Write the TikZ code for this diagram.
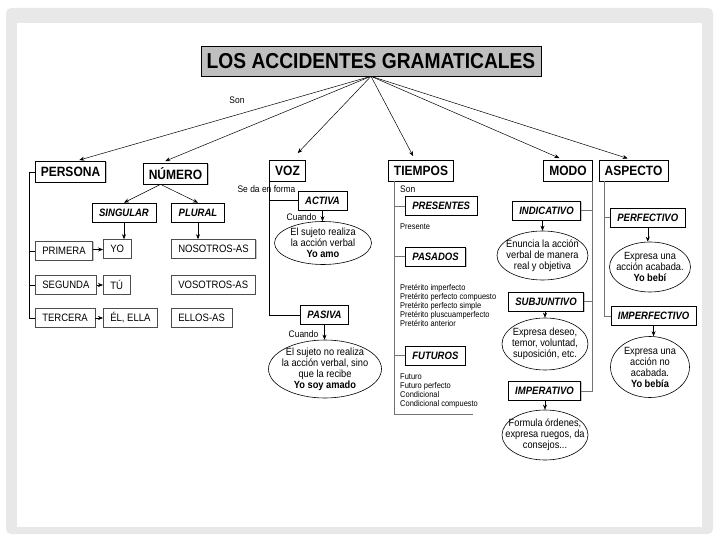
\documentclass[tikz,border=0pt]{standalone}
\usepackage{fontspec}
\setmainfont[FakeStretch=0.89]{Liberation Sans}
\usetikzlibrary{arrows.meta,shapes.geometric,shadows}

\begin{document}
\begin{tikzpicture}[x=1pt, y=-1pt,
  arr/.style={-{Stealth[length=5pt,width=4pt]}, line width=0.5pt},
  boxshadow/.style={drop shadow={shadow xshift=0.9pt, shadow yshift=-0.9pt, opacity=0.45}},
  titlebox/.style={draw, fill=black!25, line width=0.6pt, minimum width=340pt,
    minimum height=30pt, font=\bfseries\fontsize{21.6}{23}\selectfont},
  headbox/.style={draw, fill=white, line width=0.7pt, boxshadow, inner xsep=5.5pt,
    minimum height=21pt, font=\bfseries\fontsize{13.5}{15}\selectfont},
  subbox/.style={draw, fill=white, line width=0.7pt, boxshadow, inner xsep=7pt,
    minimum height=19pt, font=\bfseries\itshape\fontsize{10.7}{12}\selectfont},
  leafbox/.style={draw=black!70, fill=white, line width=0.6pt, boxshadow, inner xsep=7pt,
    minimum height=19pt, font=\fontsize{10.7}{12}\selectfont},
  bubble/.style={draw, ellipse, fill=white, line width=0.6pt, inner sep=0pt},
  bubbletext/.style={inner sep=0pt, align=center, font=\fontsize{10.4}{11}\selectfont},
  note/.style={inner sep=0pt, font=\fontsize{9.5}{11}\selectfont},
  small/.style={inner sep=0pt, text height=6pt, text depth=1.6pt,
    font=\fontsize{8.4}{9}\selectfont},
  link/.style={line width=0.6pt},
  graylink/.style={draw=black!55, line width=0.6pt}]

% --- Frame ---
\fill[white] (0,0) rectangle (720,540);
\fill[black!9, rounded corners=5pt] (6,8) rectangle (713,534);
\fill[white] (17,23) rectangle (702,527);
\useasboundingbox (0,0) rectangle (720,540);

% --- Title and main categories ---
\node[titlebox] (title) at (371,61) {LOS ACCIDENTES GRAMATICALES};
\node[headbox] (persona) at (70.5,172) {PERSONA};
\node[headbox] (numero) at (175.5,173.5) {NÚMERO};
\node[headbox] (voz) at (287.5,170.5) {VOZ};
\node[headbox] (tiempos) at (421,170.5) {TIEMPOS};
\node[headbox] (modo) at (568,170.5) {MODO};
\node[headbox] (aspecto) at (633.5,170.5) {ASPECTO};
\node[note] (son) at (237,100) {Son};

\foreach \n/\dx/\s in {persona/5pt/4pt, numero/-14pt/4pt, voz/4pt/9pt,
    tiempos/-6pt/4pt, modo/-5pt/4pt, aspecto/-2pt/4pt} {
  \draw[arr, shorten >=\s] (title.south) -- ([xshift=\dx]\n.north);
}

% --- Número ---
\node[subbox] (singular) at (124,212.5) {SINGULAR};
\node[subbox] (plural) at (198,212.5) {PLURAL};
\draw[arr] ([xshift=-15pt]numero.south) -- (singular.north);
\draw[arr] ([xshift=-15pt]numero.south) -- (plural.north);

% --- Persona rows ---
\node[leafbox, anchor=west] (primera) at (35,251) {PRIMERA};
\node[leafbox, anchor=west] (segunda) at (35,285) {SEGUNDA};
\node[leafbox, anchor=west] (tercera) at (35,318) {TERCERA};
\node[leafbox, anchor=west] (yo) at (103,249) {YO};
\node[leafbox, anchor=west] (tu) at (103,285) {TÚ};
\node[leafbox, anchor=west] (el) at (103,318) {ÉL, ELLA};
\node[leafbox, anchor=west] (nosotros) at (171,249) {NOSOTROS-AS};
\node[leafbox, anchor=west] (vosotros) at (171,285) {VOSOTROS-AS};
\node[leafbox, anchor=west] (ellos) at (171,318) {ELLOS-AS};

\draw[arr] (singular.south) -- (singular.south |- yo.north);
\draw[arr] (plural.south) -- (plural.south |- nosotros.north);
\draw[arr] ([yshift=1.5pt]primera.east) -- ([yshift=1.5pt]primera.east -| yo.west);
\draw[arr] (segunda.east) -- (tu.west);
\draw[arr] (tercera.east) -- (el.west);

\draw[link] (persona.west) -- ++(-6,0) |- (tercera.west);
\foreach \n in {primera, segunda} {
  \draw[link] (\n.west) -- ++(-6,0);
}

% --- Voz ---
\node[subbox] (activa) at (322.5,200.5) {ACTIVA};
\node[subbox] (pasiva) at (324.5,315) {PASIVA};
\draw[link] (voz.south west) |- (pasiva.west);
\draw[link] (voz.south west |- activa.west) -- (activa.west);
\node[note] (forma) at (266.5,189) {Se da en forma};

\node[note] (cuando1) at (301.5,217) {Cuando};
\node[bubble, minimum width=97pt, minimum height=43pt] (realiza) at (323,243) {};
\node[bubbletext] (realiza-t) at (realiza)
  {El sujeto realiza\\la acción verbal\\\textbf{Yo amo}};
\draw[arr] (activa.south) -- (activa.south |- realiza.north);

\node[note] (cuando2) at (303.5,334) {Cuando};
\node[bubble, minimum width=113pt, minimum height=58pt] (recibe) at (325,369) {};
\node[bubbletext] (recibe-t) at (recibe)
  {El sujeto no realiza\\la acción verbal, sino\\que la recibe\\\textbf{Yo soy amado}};
\draw[arr] (pasiva.south) -- (pasiva.south |- recibe.north);

% --- Tiempos ---
\coordinate (tend) at (473,414);
\draw[graylink] ([xshift=6pt]tiempos.south west) |- (tend);
\node[note, anchor=west] (son2) at (400,189) {Son};
\node[subbox, anchor=west] (presentes) at (405,206) {PRESENTES};
\node[small, anchor=west] (presente) at (400,227) {Presente};
\node[subbox, anchor=west] (pasados) at (405,256.5) {PASADOS};
\node[subbox, anchor=west] (futuros) at (405,355.5) {FUTUROS};
\foreach \n in {presentes, pasados, futuros} {
  \draw[graylink] (\n.west) -- ++(-11,0);
}
\foreach \t [count=\i] in {Pretérito imperfecto, Pretérito perfecto compuesto,
    Pretérito perfecto simple, Pretérito pluscuamperfecto, Pretérito anterior} {
  \node[small, anchor=west] (pas\i) at (400,279+9*\i) {\t};
}
\foreach \t [count=\i] in {Futuro, Futuro perfecto, Condicional,
    Condicional compuesto} {
  \node[small, anchor=west] (fut\i) at (400,368+9*\i) {\t};
}

% --- Modo ---
\node[subbox] (indicativo) at (546.5,210.5) {INDICATIVO};
\node[subbox] (subjuntivo) at (546,301.5) {SUBJUNTIVO};
\node[subbox] (imperativo) at (544.5,391) {IMPERATIVO};
\draw[graylink] (modo.south east) |- (imperativo.east);
\foreach \n in {indicativo, subjuntivo} {
  \draw[graylink] (\n.east) -- (\n.east -| modo.south east);
}
\node[bubble, minimum width=91pt, minimum height=49pt] (enuncia) at (542.5,255.5) {};
\node[bubbletext] (enuncia-t) at (enuncia)
  {Enuncia la acción\\verbal de manera\\real y objetiva};
\node[bubble, minimum width=86pt, minimum height=52pt] (deseo) at (545,344) {};
\node[bubbletext] (deseo-t) at (deseo)
  {Expresa deseo,\\temor, voluntad,\\suposición, etc.};
\node[bubble, minimum width=86pt, minimum height=50pt] (ordenes) at (545,435) {};
\node[bubbletext] (ordenes-t) at (ordenes)
  {Formula órdenes,\\expresa ruegos, da\\consejos...};
\draw[arr] (enuncia.north |- indicativo.south) -- (enuncia.north);
\draw[arr] (deseo.north |- subjuntivo.south) -- (deseo.north);
\draw[arr] (ordenes.north |- imperativo.south) -- (ordenes.north);

% --- Aspecto ---
\node[subbox, anchor=west] (perfectivo) at (610,217.5) {PERFECTIVO};
\node[subbox, anchor=west] (imperfectivo) at (610.5,316) {IMPERFECTIVO};
\draw[graylink] ([xshift=6pt]aspecto.south west) |- (imperfectivo.west);
\draw[graylink] (perfectivo.west) -- ++(-5,0);
\node[bubble, minimum width=81pt, minimum height=50pt] (acabada) at (650,267) {};
\node[bubbletext] (acabada-t) at (acabada)
  {Expresa una\\acción acabada.\\\textbf{Yo bebí}};
\node[bubble, minimum width=79pt, minimum height=61pt] (noacabada) at (650,367) {};
\node[bubbletext] (noacabada-t) at (noacabada)
  {Expresa una\\acción no\\acabada.\\\textbf{Yo bebía}};
\draw[arr] (perfectivo.south) -- (perfectivo.south |- acabada.north);
\draw[arr] (imperfectivo.south) -- (imperfectivo.south |- noacabada.north);

\end{tikzpicture}
\end{document}
